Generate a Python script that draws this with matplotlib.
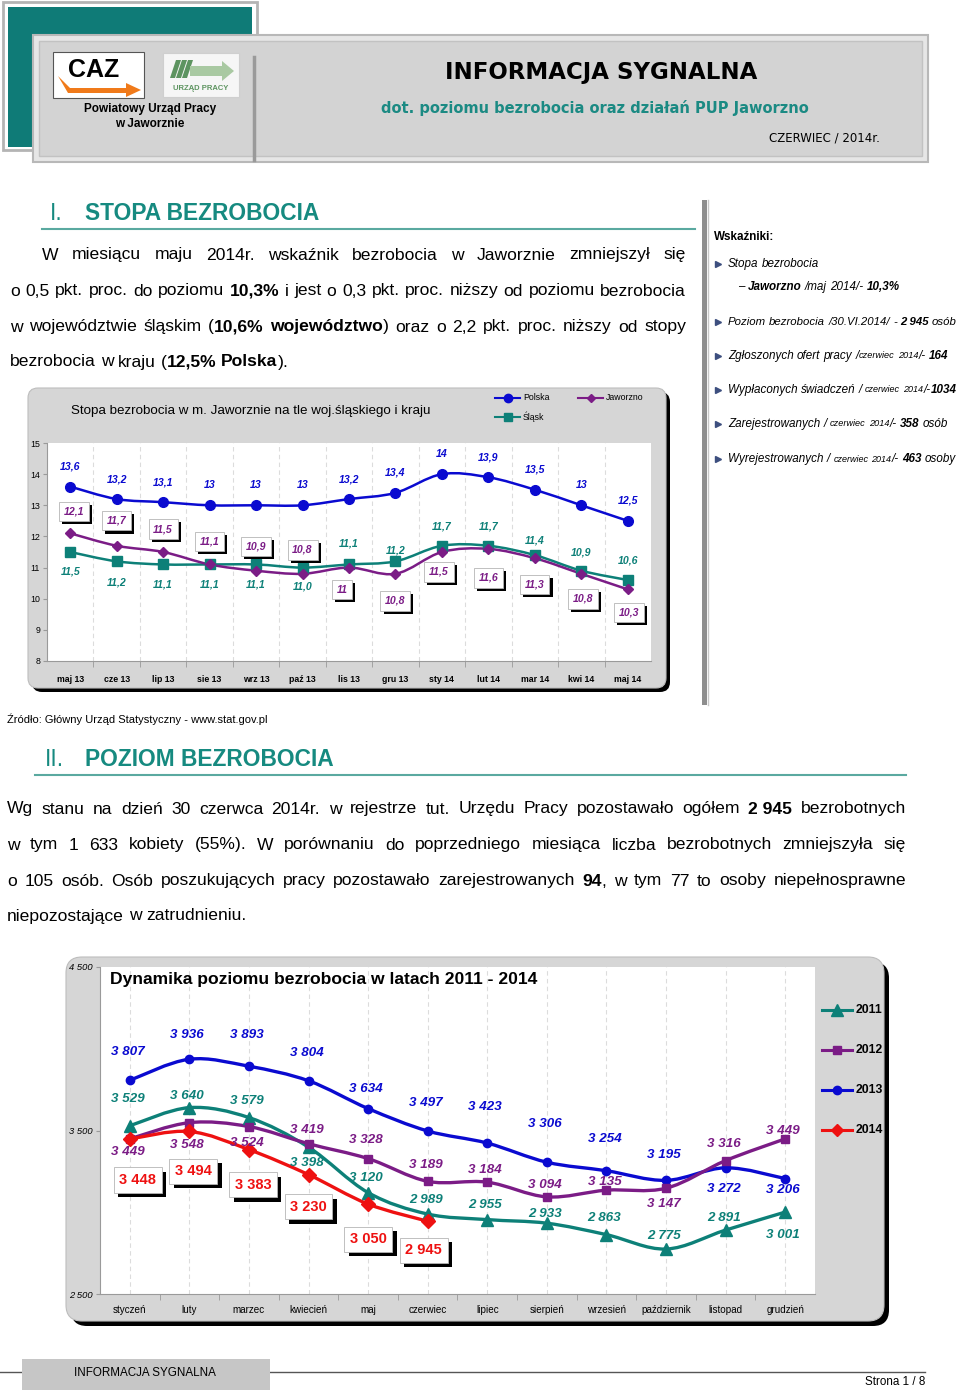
import numpy as np
import matplotlib
matplotlib.use('Agg')
import matplotlib.pyplot as plt
import matplotlib.patheffects as pe
from matplotlib import font_manager as fm
from matplotlib.patches import FancyBboxPatch, Rectangle, PathPatch, Polygon
from matplotlib.path import Path

W, H = 960, 1392

# ---- chart 1: stopa bezrobocia (%)
months_1 = ['maj 13', 'cze 13', 'lip 13', 'sie 13', 'wrz 13', 'paź 13', 'lis 13',
            'gru 13', 'sty 14', 'lut 14', 'mar 14', 'kwi 14', 'maj 14']
names_1 = ['Polska', 'Śląsk', 'Jaworzno']
polska = [13.6, 13.2, 13.1, 13, 13, 13, 13.2, 13.4, 14, 13.9, 13.5, 13, 12.5]
slask = [11.5, 11.2, 11.1, 11.1, 11.1, 11.0, 11.1, 11.2, 11.7, 11.7, 11.4, 10.9, 10.6]
jaworzno = [12.1, 11.7, 11.5, 11.1, 10.9, 10.8, 11, 10.8, 11.5, 11.6, 11.3, 10.8, 10.3]

# ---- chart 2: liczba bezrobotnych
months_2 = ['styczeń', 'luty', 'marzec', 'kwiecień', 'maj', 'czerwiec', 'lipiec',
            'sierpień', 'wrzesień', 'październik', 'listopad', 'grudzień']
years_2 = ['2011', '2012', '2013', '2014']
bezr_2011 = [3529, 3640, 3579, 3398, 3120, 2989, 2955, 2933, 2863, 2775, 2891, 3001]
bezr_2012 = [3449, 3548, 3524, 3419, 3328, 3189, 3184, 3094, 3135, 3147, 3316, 3449]
bezr_2013 = [3807, 3936, 3893, 3804, 3634, 3497, 3423, 3306, 3254, 3195, 3272, 3206]
bezr_2014 = [3448, 3494, 3383, 3230, 3050, 2945]

# label offsets in pixels (up = positive)
off_polska = [20] * 13
off_slask = [-20, -21, -20, -20, -20, -19, 21, 11, 19, 19, 15, 18, 20]
off_jaw = [22, 25, 23, 23, 24, 24, -22, -27, -20, -29, -26, -25, -23]
dx_jaw = [4, 0, 0, 0, 0, 0, -7, 0, -3, 0, 0, 2, 1]
off_2011 = [27, 12, 17, -16, 15, 14, 15, 9, 17, 13, 12, -23]
off_2012 = [-13, -22, -16, 14, 19, 16, 12, 12, 8, -16, 17, 8]
off_2013 = [28, 24, 31, 28, 20, 28, 36, 38, 32, 25, -21, -11]
off_2014 = [-41, -40, -35, -32, -35, -29]
dx_2014 = [8, 4, 4, 0, 0, -4]

installed = {f.name for f in fm.fontManager.ttflist}
if 'Liberation Sans Narrow' in installed:
    NARROW, NS = 'Liberation Sans Narrow', 1.0
else:
    NARROW, NS = 'Liberation Sans', 0.84   # no condensed face: shrink to keep widths
plt.rcParams['font.family'] = [NARROW, 'DejaVu Sans']


def fs(size):
    return size * NS


TEAL = '#0d8078'
BLUE = '#0a0ad0'
PURPLE = '#7b1c86'
RED = '#ee1111'
HEAD = '#168a80'
PANEL = '#d6d6d6'

fig = plt.figure(figsize=(W / 100, H / 100), dpi=100)
page = fig.add_axes([0, 0, 1, 1])
page.set_xlim(0, W)
page.set_ylim(H, 0)
page.axis('off')
renderer = fig.canvas.get_renderer()


def px_axes(x0, y0, x1, y1):
    return fig.add_axes([x0 / W, 1 - y1 / H, (x1 - x0) / W, (y1 - y0) / H])


def parse(line):
    # '*' toggles bold, '~' toggles small text, spaces split words
    words, cur, buf = [], [], ''
    bold = small = False
    for ch in line:
        if ch in '*~ ':
            if buf:
                cur.append((buf, bold, small))
                buf = ''
            if ch == '*':
                bold = not bold
            elif ch == '~':
                small = not small
            elif cur:
                words.append(cur)
                cur = []
        else:
            buf += ch
    if buf:
        cur.append((buf, bold, small))
    if cur:
        words.append(cur)
    return words


def text_line(line, x0, y, size, x1=None, italic=False, color='black', maxx=None):
    words = parse(line)
    texts = []
    for w in words:
        texts.append([page.text(x0, y, s, fontsize=size * (0.78 if sm else 1),
                                fontweight='bold' if b else 'normal',
                                fontstyle='italic' if italic else 'normal',
                                color=color, va='center', ha='left')
                      for s, b, sm in w])
    p1 = page.text(0, 0, 'a a', fontsize=size)
    p2 = page.text(0, 0, 'aa', fontsize=size)
    space = p1.get_window_extent(renderer).width - p2.get_window_extent(renderer).width
    p1.remove()
    p2.remove()

    def widths():
        return [sum(t.get_window_extent(renderer).width for t in w) for w in texts]

    ws = widths()
    limit = x1 if x1 is not None else maxx
    if limit is not None:
        need = sum(ws) + space * (len(ws) - 1)
        if need > limit - x0:
            k = (limit - x0) / need
            for w in texts:
                for t in w:
                    t.set_fontsize(t.get_fontsize() * k)
            ws = widths()
            space *= k
    gap = space
    if x1 is not None:
        gap = (x1 - x0 - sum(ws)) / max(len(ws) - 1, 1)
    x = x0
    for w in texts:
        for t in w:
            t.set_x(x)
            x += t.get_window_extent(renderer).width
        x += gap


def smooth_path(xs, ys):
    pts = np.column_stack([xs, ys]).astype(float)
    n = len(pts)
    verts, codes = [pts[0]], [Path.MOVETO]
    for i in range(n - 1):
        p0 = pts[i - 1] if i > 0 else pts[i]
        p1, p2 = pts[i], pts[i + 1]
        p3 = pts[i + 2] if i + 2 < n else pts[i + 1]
        verts += [p1 + (p2 - p0) / 6, p2 - (p3 - p1) / 6, p2]
        codes += [Path.CURVE4] * 3
    return Path(verts, codes)


def fmt_pct(v):
    return str(v).replace('.', ',')


def fmt_num(v):
    return f'{v:,}'.replace(',', ' ')


def shadow_box(ann, off):
    ann.get_bbox_patch().set_path_effects(
        [pe.SimplePatchShadow(offset=(off, -off), shadow_rgbFace='black', alpha=1.0), pe.Normal()])


# ================= HEADER =================
page.add_patch(Rectangle((3, 2), 254, 148, fc='none', ec='#b4b4b4', lw=2))
page.add_patch(Rectangle((8, 7), 244, 140, fc='#0f7b77', ec='none'))
page.add_patch(Rectangle((33, 35), 895, 127, fc='#e6e6e6', ec='#b8b8b8', lw=1.5))
page.add_patch(Rectangle((39, 41), 883, 115, fc='#d3d3d3', ec='#c2c2c2', lw=1))
page.plot([254, 254], [57, 160], color='#9a9a9a', lw=2.5)

# CAZ logo
page.add_patch(Rectangle((53, 52), 91, 46, fc='white', ec='#555555', lw=0.8))
page.add_patch(Polygon([[58, 76], [70, 88], [126, 88], [126, 83], [141, 90], [126, 97],
                        [126, 93], [68, 93]], closed=True, fc='#f07a1a', ec='none'))
page.text(94, 70, 'CAZ', fontsize=18, family='Liberation Sans', fontweight='bold',
          ha='center', va='center')
# Urzad Pracy logo
page.add_patch(Rectangle((163, 53), 76, 44, fc='#f6f6f6', ec='#cfcfcf', lw=0.8))
for k in range(3):
    page.add_patch(Polygon([[170 + 6 * k, 78], [176 + 6 * k, 60], [181 + 6 * k, 60], [175 + 6 * k, 78]],
                           closed=True, fc='#5d9460', ec='none'))
page.add_patch(Polygon([[190, 66], [222, 66], [222, 61], [234, 71], [222, 81], [222, 76], [190, 76]],
                       closed=True, fc='#a9c9a2', ec='none'))
page.text(201, 88, 'URZĄD PRACY', fontsize=5.5, color='#5d9460', fontweight='bold',
          family='Liberation Sans', ha='center', va='center')
page.text(150, 109, 'Powiatowy Urząd Pracy', fontsize=8.5, fontweight='bold', ha='center', va='center',
          family='Liberation Sans')
page.text(150, 124, 'w Jaworznie', fontsize=8.5, fontweight='bold', ha='center', va='center',
          family='Liberation Sans')

page.text(601, 72, 'INFORMACJA SYGNALNA', fontsize=16.5, fontweight='bold', family='DejaVu Sans',
          ha='center', va='center')
page.text(595, 108, 'dot. poziomu bezrobocia oraz działań PUP Jaworzno', fontsize=10.5,
          fontweight='bold', family='DejaVu Sans', color='#1b8a83', ha='center', va='center')
page.text(880, 138, 'CZERWIEC / 2014r.', fontsize=8.5, family='DejaVu Sans', ha='right', va='center')

# ================= SECTION I =================
page.text(50, 213, 'I.', fontsize=fs(19.5), color=HEAD, va='center')
page.text(85, 213, 'STOPA BEZROBOCIA', fontsize=fs(19.5), color=HEAD, fontweight='bold', va='center')
page.plot([42, 695], [229, 229], color='#5aa9a0', lw=1.5)

text_line('W miesiącu maju 2014r. wskaźnik bezrobocia w Jaworznie zmniejszył się', 42, 255, fs(15), x1=686)
text_line('o 0,5 pkt. proc. do poziomu *10,3%* i jest o 0,3 pkt. proc. niższy od poziomu bezrobocia',
          10, 291, fs(15), x1=686)
text_line('w województwie śląskim (*10,6% województwo*) oraz o 2,2 pkt. proc. niższy od stopy',
          10, 327, fs(15), x1=686)
text_line('bezrobocia w kraju (*12,5% Polska*).', 10, 362, fs(15))

# sidebar
page.add_patch(Rectangle((702, 200), 5, 505, fc='#8e8e8e', ec='none'))
page.plot([708, 708], [200, 705], color='#c8c8c8', lw=1)
page.text(714, 237, 'Wskaźniki:', fontsize=fs(10), fontweight='heavy', va='center')
side = [(264, 'Stopa bezrobocia', True),
        (287, '– *Jaworzno* /maj 2014/- *10,3%*', False),
        (322, 'Poziom bezrobocia /30.VI.2014/ - *2\u00a0945*  osób', True),
        (356, 'Zgłoszonych ofert pracy /~czerwiec 2014~/- *164*', True),
        (390, 'Wypłaconych świadczeń / ~czerwiec 2014~/-*1034*', True),
        (424, 'Zarejestrowanych / ~czerwiec 2014~/- *358*  osób', True),
        (459, 'Wyrejestrowanych / ~czerwiec 2014~/- *463* osoby', True)]
for y, line, bullet in side:
    if bullet:
        page.plot(718, y, marker='>', ms=4, color='#3d4f7f')
    text_line(line, 728 if bullet else 738, y, fs(10), italic=True, maxx=956)

# ================= CHART 1 =================
page.add_patch(FancyBboxPatch((32, 392), 638, 300, boxstyle='round,pad=0,rounding_size=10',
                              fc='black', ec='none'))
page.add_patch(FancyBboxPatch((28, 388), 638, 300, boxstyle='round,pad=0,rounding_size=10',
                              fc=PANEL, ec='#bdbdbd', lw=0.8))
page.text(71, 411, 'Stopa bezrobocia w m. Jaworznie na tle woj.śląskiego i kraju', fontsize=fs(11.5),
          va='center')
for (lx, ly, col, mk, ms), name in zip([(495, 398, BLUE, 'o', 6), (495, 417, TEAL, 's', 6),
                                         (578, 398, PURPLE, 'D', 4.5)], names_1):
    page.plot([lx, lx + 25], [ly, ly], color=col, lw=1.5)
    page.plot(lx + 12.5, ly, marker=mk, ms=ms, color=col)
    page.text(lx + 28, ly, name, fontsize=fs(7.5), va='center')

ax1 = px_axes(47, 443, 651, 661)
x1 = np.arange(len(months_1))
ax1.set_xlim(-0.5, len(months_1) - 0.5)
ax1.set_ylim(8, 15)
ax1.set_facecolor('white')
for s in ['top', 'right']:
    ax1.spines[s].set_visible(False)
for s in ['left', 'bottom']:
    ax1.spines[s].set_color('#9a9a9a')
ax1.set_yticks(range(8, 16))
ax1.tick_params(axis='y', labelsize=fs(7.5), length=3, color='#9a9a9a', pad=2)
ax1.set_xticks(x1)
ax1.set_xticklabels(months_1, fontsize=fs(7.5), fontweight='bold')
ax1.tick_params(axis='x', length=0, pad=10)
ax1.set_xticks(x1[:-1] + 0.5, minor=True)
ax1.tick_params(axis='x', which='minor', length=4, color='#9a9a9a')
ax1.grid(axis='x', which='minor', ls=(0, (4, 3)), color='#dcdcdc', lw=0.8)

for vals, col, mk, ms in [(slask, TEAL, 's', 6.5), (jaworzno, PURPLE, 'D', 5.5), (polska, BLUE, 'o', 7)]:
    ax1.add_patch(PathPatch(smooth_path(x1, vals), fc='none', ec=col, lw=1.8, zorder=3))
    ax1.plot(x1, vals, ls='none', marker=mk, ms=ms, color=col, zorder=4)

for i, v in enumerate(polska):
    ax1.annotate(fmt_pct(v), (i, v), xytext=(0, off_polska[i]), textcoords='offset pixels',
                 ha='center', va='center', fontsize=fs(9), fontweight='bold', fontstyle='italic',
                 color=BLUE, zorder=5)
for i, v in enumerate(slask):
    ax1.annotate(fmt_pct(v), (i, v), xytext=(0, off_slask[i]), textcoords='offset pixels',
                 ha='center', va='center', fontsize=fs(9), fontweight='bold', fontstyle='italic',
                 color=TEAL, zorder=5)
for i, v in enumerate(jaworzno):
    a = ax1.annotate(fmt_pct(v), (i, v), xytext=(dx_jaw[i], off_jaw[i]), textcoords='offset pixels',
                     ha='center', va='center', fontsize=fs(9), fontweight='bold', fontstyle='italic',
                     color=PURPLE, zorder=6,
                     bbox=dict(boxstyle='square,pad=0.45', fc='white', ec='#b5b5b5', lw=0.6))
    shadow_box(a, 2.2)

page.text(7, 719, 'Źródło: Główny Urząd Statystyczny - www.stat.gov.pl', fontsize=fs(9.5), va='center')

# ================= SECTION II =================
page.text(45, 759, 'II.', fontsize=fs(19.5), color=HEAD, va='center')
page.text(85, 759, 'POZIOM BEZROBOCIA', fontsize=fs(19.5), color=HEAD, fontweight='bold', va='center')
page.plot([35, 906], [775, 775], color='#5aa9a0', lw=1.5)

text_line('Wg stanu na dzień 30 czerwca 2014r. w rejestrze tut. Urzędu Pracy pozostawało ogółem '
          '*2\u00a0945* bezrobotnych', 7, 809, fs(15), x1=906)
text_line('w tym 1 633 kobiety (55%). W porównaniu do poprzedniego miesiąca liczba bezrobotnych '
          'zmniejszyła się', 7, 845, fs(15), x1=906)
text_line('o 105 osób. Osób poszukujących pracy pozostawało zarejestrowanych *94*, w tym 77 to osoby '
          'niepełnosprawne', 7, 881, fs(15), x1=906)
text_line('niepozostające w zatrudnieniu.', 7, 916, fs(15))

# ================= CHART 2 =================
page.add_patch(FancyBboxPatch((71, 962), 818, 364, boxstyle='round,pad=0,rounding_size=16',
                              fc='black', ec='none'))
page.add_patch(FancyBboxPatch((66, 957), 818, 364, boxstyle='round,pad=0,rounding_size=16',
                              fc=PANEL, ec='#bdbdbd', lw=0.8))
for (lx, ly, col, mk, ms), name in zip([(822, 1010, TEAL, '^', 8), (822, 1050, PURPLE, 's', 6),
                                         (822, 1090, BLUE, 'o', 6), (822, 1130, RED, 'D', 6.5)], years_2):
    page.plot([lx, lx + 30], [ly, ly], color=col, lw=2.2)
    page.plot(lx + 15, ly, marker=mk, ms=ms, color=col)
    page.text(lx + 34, ly, name, fontsize=fs(10.5), fontweight='bold', va='center')

ax2 = px_axes(100, 967, 815, 1294)
x2 = np.arange(len(months_2))
ax2.set_xlim(-0.5, len(months_2) - 0.5)
ax2.set_ylim(2500, 4500)
ax2.set_facecolor('white')
for s in ['top', 'right']:
    ax2.spines[s].set_visible(False)
for s in ['left', 'bottom']:
    ax2.spines[s].set_color('#9a9a9a')
ax2.set_yticks([2500, 3500, 4500])
ax2.set_yticklabels([fmt_num(v) for v in [2500, 3500, 4500]], fontsize=fs(8), fontstyle='italic')
ax2.tick_params(axis='y', length=3, color='#9a9a9a', pad=2)
ax2.set_xticks(x2)
ax2.set_xticklabels(months_2, fontsize=fs(8.5))
ax2.tick_params(axis='x', length=0, pad=8)
ax2.set_xticks(x2[:-1] + 0.5, minor=True)
ax2.tick_params(axis='x', which='minor', length=4, color='#9a9a9a')
ax2.grid(axis='x', which='major', ls=(0, (4, 3)), color='#dcdcdc', lw=0.8)
ax2.text(0.014, 0.962, 'Dynamika poziomu bezrobocia w latach 2011 - 2014', transform=ax2.transAxes,
         fontsize=fs(15), fontweight='bold', va='center', ha='left')

series_2 = [(bezr_2013, BLUE, 'o', 6, off_2013), (bezr_2011, TEAL, '^', 8, off_2011),
            (bezr_2012, PURPLE, 's', 6, off_2012), (bezr_2014, RED, 'D', 7, off_2014)]
for vals, col, mk, ms, offs in series_2:
    xs = x2[:len(vals)]
    ax2.add_patch(PathPatch(smooth_path(xs, vals), fc='none', ec=col, lw=2.4, zorder=3))
    ax2.plot(xs, vals, ls='none', marker=mk, ms=ms, color=col, zorder=4)
for vals, col, mk, ms, offs in series_2[:3]:
    for i, v in enumerate(vals):
        ax2.annotate(fmt_num(v), (i, v), xytext=(-2, offs[i]), textcoords='offset pixels',
                     ha='center', va='center', fontsize=fs(11.5), fontweight='bold', fontstyle='italic',
                     color=col, zorder=5)
for i, v in enumerate(bezr_2014):
    a = ax2.annotate(fmt_num(v), (i, v), xytext=(dx_2014[i], off_2014[i]), textcoords='offset pixels',
                     ha='center', va='center', fontsize=fs(12.5), fontweight='bold', color=RED, zorder=6,
                     bbox=dict(boxstyle='square,pad=0.38', fc='white', ec='#b5b5b5', lw=0.6))
    shadow_box(a, 3.2)

# ================= FOOTER =================
page.plot([0, 925], [1372, 1372], color='#555555', lw=1)
page.add_patch(Rectangle((22, 1359), 248, 31, fc='#c6c6c6', ec='none', zorder=3))
page.text(145, 1373, 'INFORMACJA SYGNALNA', fontsize=fs(10), ha='center', va='center', zorder=4)
page.text(925, 1382, 'Strona 1 / 8', fontsize=fs(10), ha='right', va='center')

fig.savefig('out.png', dpi=100)
